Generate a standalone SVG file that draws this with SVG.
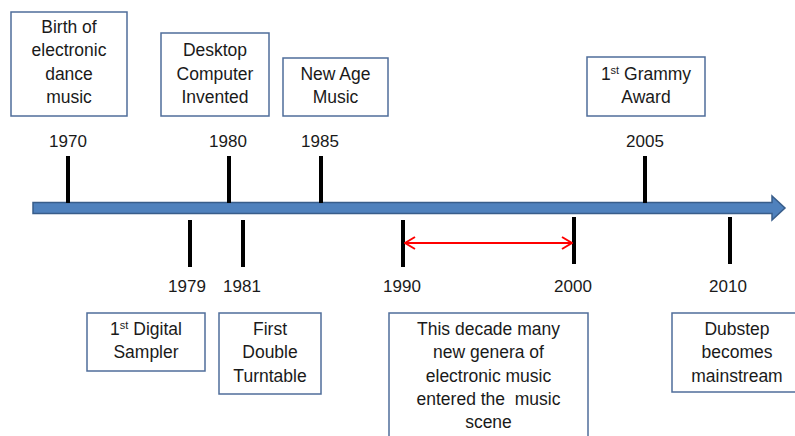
<svg xmlns="http://www.w3.org/2000/svg" width="795" height="436" viewBox="0 0 795 436">
  <style>
    text { font-family: "Liberation Sans", Arial, sans-serif; font-size: 17.5px; fill: #1a1a1a; text-anchor: middle; }
    #years text { font-size: 17px; }
    .box { fill: #ffffff; stroke: #4F6D9A; stroke-width: 1.5; }
    .tick { stroke: #000000; stroke-width: 4; }
    .span { stroke: #FF0000; stroke-width: 2; fill: none; }
  </style>
  <defs>
    <marker id="chev" viewBox="0 0 12 14" refX="11" refY="7" markerWidth="12" markerHeight="14" markerUnits="userSpaceOnUse" orient="auto-start-reverse">
      <path d="M1,1 L11,7 L1,13" fill="none" stroke="#FF0000" stroke-width="2"/>
    </marker>
  </defs>
  <rect width="795" height="436" fill="#ffffff"/>

  <!-- timeline axis -->
  <g id="axis">
    <path d="M33,202.5 H772 V196 L785,208 L772,220 V213.5 H33 Z" fill="#4F81BD" stroke="#385D8A" stroke-width="1.5"/>
  </g>

  <!-- connectors: year ticks and the decade span -->
  <g id="connectors">
    <line class="tick" x1="68" y1="156" x2="68" y2="203"/>
    <line class="tick" x1="229" y1="156" x2="229" y2="203"/>
    <line class="tick" x1="321" y1="156" x2="321" y2="203"/>
    <line class="tick" x1="645" y1="156" x2="645" y2="203"/>
    <line class="tick" x1="190" y1="220" x2="190" y2="267"/>
    <line class="tick" x1="243" y1="220" x2="243" y2="267"/>
    <line class="tick" x1="403" y1="220" x2="403" y2="267"/>
    <line class="tick" x1="574" y1="217" x2="574" y2="264"/>
    <line class="tick" x1="730" y1="217" x2="730" y2="264"/>
    <line class="span" x1="405" y1="243" x2="572" y2="243" marker-start="url(#chev)" marker-end="url(#chev)"/>
  </g>

  <!-- year labels -->
  <g id="years">
    <text x="68" y="147">1970</text>
    <text x="228" y="147">1980</text>
    <text x="320" y="147">1985</text>
    <text x="645" y="147">2005</text>
    <text x="187" y="292">1979</text>
    <text x="242" y="292">1981</text>
    <text x="402" y="292">1990</text>
    <text x="573" y="292">2000</text>
    <text x="728" y="292">2010</text>
  </g>

  <!-- event boxes above the axis -->
  <g id="birth">
    <rect class="box" x="11" y="12" width="116" height="104"/>
    <text x="69" y="33">Birth of</text>
    <text x="69" y="56">electronic</text>
    <text x="69" y="80">dance</text>
    <text x="69" y="103">music</text>
  </g>
  <g id="desktop">
    <rect class="box" x="161" y="33" width="108" height="83"/>
    <text x="215" y="56">Desktop</text>
    <text x="215" y="80">Computer</text>
    <text x="215" y="103">Invented</text>
  </g>
  <g id="newage">
    <rect class="box" x="283" y="58" width="105" height="58"/>
    <text x="335.5" y="80">New Age</text>
    <text x="335.5" y="103">Music</text>
  </g>
  <g id="grammy">
    <rect class="box" x="587" y="57" width="118" height="59"/>
    <text x="646" y="80">1<tspan font-size="11" dy="-6">st</tspan><tspan dy="6"> Grammy</tspan></text>
    <text x="646" y="103">Award</text>
  </g>

  <!-- event boxes below the axis -->
  <g id="sampler">
    <rect class="box" x="87" y="313" width="118" height="58"/>
    <text x="146" y="335">1<tspan font-size="11" dy="-6">st</tspan><tspan dy="6"> Digital</tspan></text>
    <text x="146" y="358">Sampler</text>
  </g>
  <g id="turntable">
    <rect class="box" x="219" y="313" width="102" height="81"/>
    <text x="270" y="335">First</text>
    <text x="270" y="358">Double</text>
    <text x="270" y="382">Turntable</text>
  </g>
  <g id="decade">
    <rect class="box" x="389" y="313" width="199" height="140"/>
    <text x="488.5" y="335">This decade many</text>
    <text x="488.5" y="358">new genera of</text>
    <text x="488.5" y="382">electronic music</text>
    <text x="488.5" y="405" xml:space="preserve">entered the  music</text>
    <text x="488.5" y="428">scene</text>
  </g>
  <g id="dubstep">
    <rect class="box" x="672" y="313" width="132" height="79"/>
    <text x="737" y="335">Dubstep</text>
    <text x="737" y="358">becomes</text>
    <text x="737" y="382">mainstream</text>
  </g>
</svg>
